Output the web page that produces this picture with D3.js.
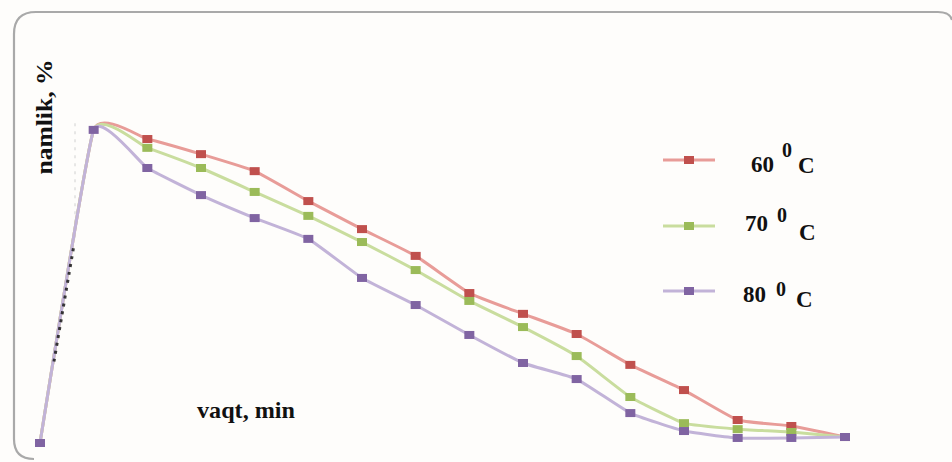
<!DOCTYPE html>
<html>
<head>
<meta charset="utf-8">
<script src="https://cdn.jsdelivr.net/npm/d3@7"></script>
<style>
  html, body { margin: 0; padding: 0; background: #ffffff; }
  svg { display: block; }
  .serif { font-family: "Liberation Serif", "Times New Roman", Times, "DejaVu Serif", serif; font-weight: bold; }
</style>
</head>
<body>
<script>
// ---- data ----
const timeMin = [0, 10, 20, 30, 40, 50, 60, 70, 80, 90, 100, 110, 120, 130, 140, 150];
const seriesNames = ["60", "70", "80"];
const moisture60 = [0, 99.4, 96.5, 91.7, 86.3, 76.8, 67.9, 59.4, 47.6, 41.0, 34.6, 24.8, 16.8, 7.3, 5.4, 1.9];
const moisture70 = [0, 99.4, 93.7, 87.3, 79.7, 72.1, 63.8, 54.9, 45.1, 36.8, 27.6, 14.6, 6.3, 4.4, 3.5, 1.9];
const moisture80 = [0, 99.4, 87.3, 78.7, 71.4, 64.8, 52.4, 43.8, 34.3, 25.4, 20.3, 9.5, 3.8, 1.6, 1.6, 1.9];
const yLabel = "namlik, %";
const xLabel = "vaqt, min";

// ---- layout / style ----
const W = 952, H = 462;
const markerColors = ["#c0504d", "#9bbb59", "#8064a2"];
const lineColors = ["#e89c98", "#c9dd9e", "#c2b3d8"];
const legendRows = [
  { y: 160, numX: 751, numY: 172, supX: 782, supY: 157, cX: 798, cY: 173 },
  { y: 226, numX: 745, numY: 231, supX: 777, supY: 222, cX: 799, cY: 240 },
  { y: 291, numX: 743, numY: 302, supX: 776, supY: 296, cX: 796, cY: 307 }
];

const svg = d3.select("body").append("svg").attr("width", W).attr("height", H);

svg.append("rect").attr("width", W).attr("height", H).attr("fill", "#fefdfb");

// frame (only left & top edges visible in reference)
svg.append("path")
  .attr("d", "M34,459 Q14,459 14,439 L14,34 Q14,12 36,12 L938,12 Q950,12 952,20")
  .attr("fill", "none").attr("stroke", "#a9a9a9").attr("stroke-width", 2.2);

const x = d3.scaleLinear().domain([timeMin[0], timeMin[timeMin.length - 1]]).range([40, 845]);
const y = d3.scaleLinear().domain([0, 100]).range([443, 128]);

const all = [moisture60, moisture70, moisture80];

// faint dotted guide near the axis start (as in the scan)
svg.append("line")
  .attr("x1", 75).attr("x2", 75).attr("y1", y(101.5)).attr("y2", y(64))
  .attr("stroke", "#d0d0d0").attr("stroke-width", 1).attr("stroke-dasharray", "3,5");

const line = d3.line()
  .x((d, i) => x(timeMin[i]))
  .y(d => y(d))
  .curve(d3.curveCardinal.tension(0.62));

all.forEach((vals, s) => {
  svg.append("path")
    .attr("d", line(vals))
    .attr("fill", "none")
    .attr("stroke", lineColors[s])
    .attr("stroke-width", 3)
    .attr("stroke-linejoin", "round");
});

// scan artifact: black dots along first rising segment of the purple line
{
  const t0 = 0.26, t1 = 0.63;
  const xa = x(timeMin[0]), ya = y(moisture80[0]), xb = x(timeMin[1]), yb = y(moisture80[1]);
  svg.append("line")
    .attr("x1", xa + (xb - xa) * t0).attr("y1", ya + (yb - ya) * t0)
    .attr("x2", xa + (xb - xa) * t1).attr("y2", ya + (yb - ya) * t1)
    .attr("stroke", "#1a1a1a").attr("stroke-width", 3)
    .attr("stroke-dasharray", "3,5").attr("opacity", 0.85);
}

all.forEach((vals, s) => {
  const pts = s === 2 ? vals.map((v, i) => i) : vals.map((v, i) => i).filter(i => i >= 2);
  svg.append("g").selectAll("rect").data(pts).join("rect")
    .attr("x", i => x(timeMin[i]) - 5)
    .attr("y", i => y(vals[i]) - 4)
    .attr("width", 10).attr("height", 8)
    .attr("fill", markerColors[s]);
});

// axis titles
svg.append("text")
  .attr("class", "serif")
  .attr("transform", "translate(52,117) rotate(-90)")
  .attr("text-anchor", "middle")
  .attr("font-size", 23)
  .attr("textLength", 115).attr("lengthAdjust", "spacingAndGlyphs")
  .attr("fill", "#111")
  .text(yLabel);

svg.append("text")
  .attr("class", "serif")
  .attr("x", 197).attr("y", 418)
  .attr("font-size", 23)
  .attr("textLength", 98).attr("lengthAdjust", "spacingAndGlyphs")
  .attr("fill", "#111")
  .text(xLabel);

// legend
const lg = svg.append("g").attr("class", "serif").attr("fill", "#111");
seriesNames.forEach((name, s) => {
  const r = legendRows[s];
  lg.append("line").attr("x1", 663).attr("x2", 715).attr("y1", r.y).attr("y2", r.y)
    .attr("stroke", lineColors[s]).attr("stroke-width", 3);
  lg.append("rect").attr("x", 684).attr("y", r.y - 4).attr("width", 10).attr("height", 8)
    .attr("fill", markerColors[s]);
  lg.append("text").attr("x", r.numX).attr("y", r.numY).attr("font-size", 23).text(name);
  lg.append("text").attr("x", r.supX).attr("y", r.supY).attr("font-size", 20).text("0");
  lg.append("text").attr("x", r.cX).attr("y", r.cY).attr("font-size", 23).text("C");
});
</script>
</body>
</html>
